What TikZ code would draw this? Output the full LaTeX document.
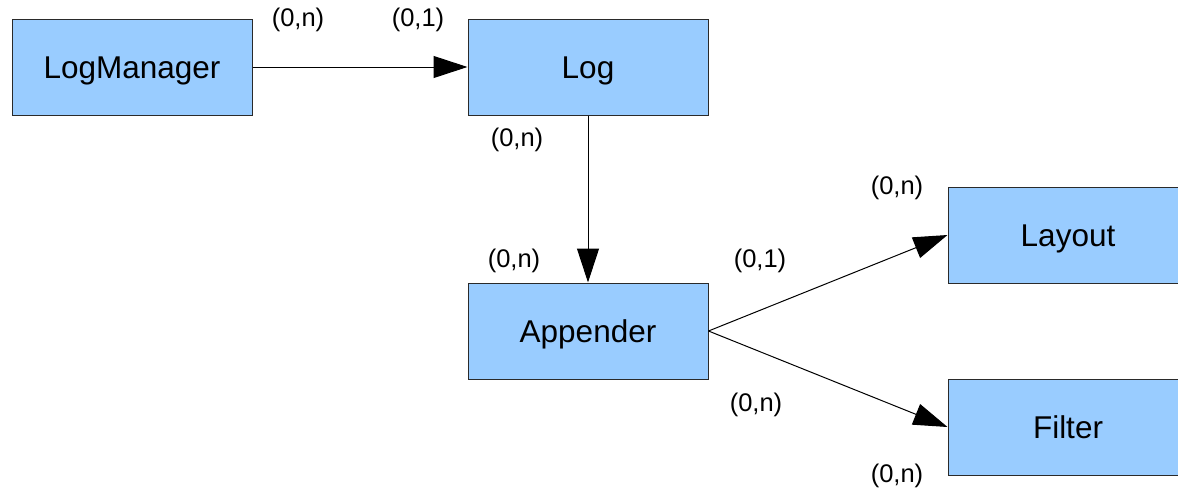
\documentclass[tikz,border=0pt]{standalone}
\usepackage{fontspec}
\setmainfont{Liberation Sans}
\usetikzlibrary{arrows.meta}
\definecolor{boxfill}{HTML}{99CCFF}
\definecolor{boxline}{HTML}{2A2A2A}
\begin{document}
\begin{tikzpicture}[x=1pt,y=-1pt,
  entity/.style={draw=boxline,line width=1pt,fill=boxfill,minimum width=240pt,minimum height=96pt,inner sep=0pt,text height=22.5pt,text depth=0pt,font=\fontsize{31.5}{36}\selectfont},
  mult/.style={font=\fontsize{25.5}{30}\selectfont,inner sep=0pt},
  conn/.style={line width=1pt,-{Triangle[length=34pt,width=22pt]}}]
\useasboundingbox (0,0) rectangle (1178,493);
\node[entity] (lm) at (132,67) {LogManager};
\node[entity] (log) at (588,67) {Log};
\node[entity] (app) at (588,331) {Appender};
\node[entity] (lay) at (1068,235) {Layout};
\node[entity] (fil) at (1068,427) {Filter};
\draw[conn] (lm.east) -- (log.west);
\draw[conn] (log.south) -- (app.north);
\draw[conn] (app.east) -- (lay.west);
\draw[conn] (app.east) -- (fil.west);
\node[mult] (m1) at (298,20) {(0,n)};
\node[mult] (m2) at (418,20) {(0,1)};
\node[mult] (m3) at (517,140) {(0,n)};
\node[mult] (m4) at (514,261) {(0,n)};
\node[mult] (m5) at (760,261) {(0,1)};
\node[mult] (m6) at (897,188) {(0,n)};
\node[mult] (m7) at (756,405) {(0,n)};
\node[mult] (m8) at (897,476) {(0,n)};
\end{tikzpicture}
\end{document}
